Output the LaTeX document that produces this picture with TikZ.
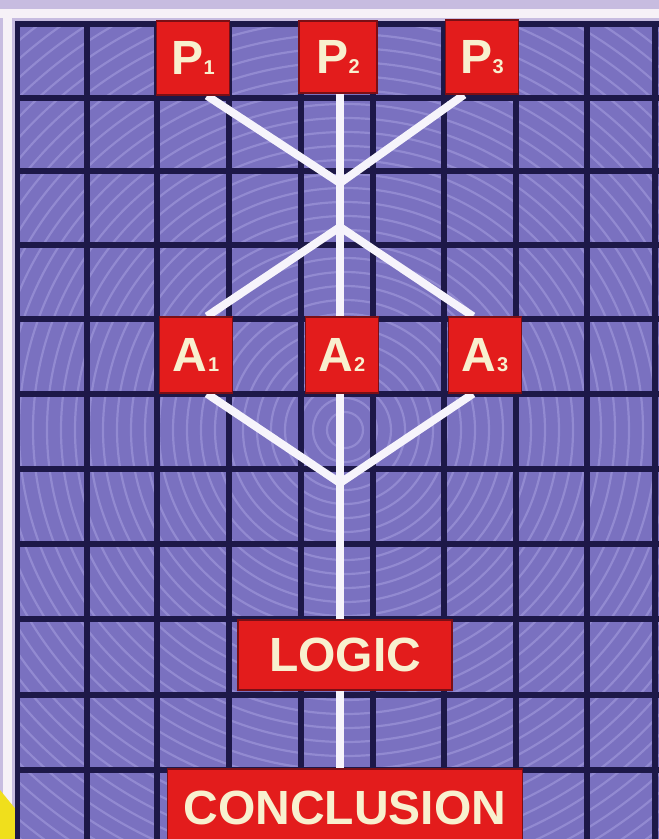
\documentclass[tikz,border=0pt]{standalone}
\usepackage{fontspec}
\setmainfont{Liberation Sans}
\definecolor{bgpurple}{HTML}{7A71C0}
\definecolor{swirlc}{HTML}{B0A9E6}
\definecolor{gridc}{HTML}{1D1848}
\definecolor{linkc}{HTML}{F6F4FB}
\definecolor{boxred}{HTML}{E31C1C}
\definecolor{boxedge}{HTML}{7A0F15}
\definecolor{txtc}{HTML}{F8F0CF}
\definecolor{framelav}{HTML}{C7BCE0}
\definecolor{framewhite}{HTML}{F6F1F7}
\definecolor{cornery}{HTML}{F0DF1C}
\pgfdeclarelayer{bg}
\pgfdeclarelayer{lines}
\pgfsetlayers{bg,lines,main}
\newcommand{\mylbl}[2]{#1\hspace{0.5pt}{\fontsize{20}{20}\selectfont #2}}
\begin{document}
\begin{tikzpicture}[x=1pt,y=-1pt,
  gridln/.style={draw=gridc, line width=5.5pt},
  link/.style={draw=linkc, line width=8pt},
  redbox/.style={fill=boxred, draw=boxedge, line width=1.5pt, inner sep=0pt,
    text=txtc, font=\fontsize{48}{48}\selectfont\bfseries},
  sqbox/.style={redbox, minimum width=73pt, minimum height=74pt}]
\useasboundingbox (0,0) rectangle (659,839);

% boxes
\node[sqbox] (P1) at (193,58) {\mylbl{P}{1}};
\node[sqbox, minimum width=78pt, minimum height=72pt] (P2) at (338,57) {\mylbl{P}{2}};
\node[sqbox] (P3) at (482,57) {\mylbl{P}{3}};
\node[sqbox, minimum height=76pt] (A1) at (196,355) {\mylbl{A}{1}};
\node[sqbox, minimum height=76pt] (A2) at (342,355) {\mylbl{A}{2}};
\node[sqbox, minimum height=76pt] (A3) at (485,355) {\mylbl{A}{3}};
\node[redbox, minimum width=214pt, minimum height=70pt] (LOGIC) at (345,655) {LOGIC};
\node[redbox, minimum width=355pt, minimum height=78pt] (CONC) at (345,808) {CONCLUSION};

\coordinate (J1) at (340,183);
\coordinate (J2) at (340,227);
\coordinate (J3) at (340,483);

\begin{pgfonlayer}{bg}
  \fill[framelav] (0,0) rectangle (659,839);
  \fill[framewhite] (0,9) rectangle (659,18);
  \fill[framewhite] (3,9) rectangle (12,805);
  \fill[cornery] (0,790) -- (40,839) -- (0,839) -- cycle;
  \begin{scope}
    \clip (15,21) rectangle (659,839);
    \fill[bgpurple] (15,21) rectangle (659,839);
    \foreach \r in {18,32,...,640}
      \draw[swirlc, line width=2.2pt, opacity=0.45] (345,430) circle[radius=\r pt];
    \foreach \x in {17,87,157,229,301,373,444,516,587,655}
      \draw[gridln] (\x,21) -- (\x,839);
    \foreach \y in {24,98,171,245,319,394,469,544,619,695,770}
      \draw[gridln] (15,\y) -- (659,\y);
  \end{scope}
\end{pgfonlayer}

\begin{pgfonlayer}{lines}
  \draw[link] ([xshift=14pt]P1.south) -- (J1);
  \draw[link] ([xshift=-18pt]P3.south) -- (J1);
  \draw[link] (J1 |- P2.south) -- (J1) -- (J2) -- (J2 |- A2.north);
  \draw[link] (J2) -- ([xshift=11pt]A1.north);
  \draw[link] (J2) -- ([xshift=-12pt]A3.north);
  \draw[link] ([xshift=11pt]A1.south) -- (J3);
  \draw[link] ([xshift=-12pt]A3.south) -- (J3);
  \draw[link] (J3 |- A2.south) -- (J3) -- (J3 |- LOGIC.north);
  \draw[link] (J3 |- LOGIC.south) -- (J3 |- CONC.north);
\end{pgfonlayer}
\end{tikzpicture}
\end{document}
